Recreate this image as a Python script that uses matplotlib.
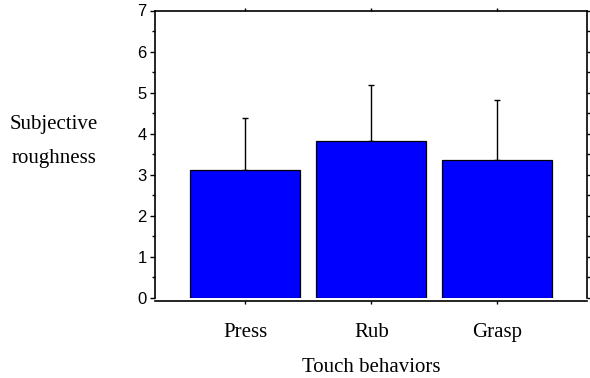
import matplotlib.pyplot as plt
import numpy as np
from matplotlib.ticker import MultipleLocator

behaviors = ['Press', 'Rub', 'Grasp']
means = [3.11, 3.83, 3.36]
errors = [1.27, 1.36, 1.46]

fig = plt.figure(figsize=(5.9, 3.78), dpi=100)
ax = fig.add_axes([155/590, 1 - 298/378, 432/590, 287.5/378])

x = np.arange(len(behaviors))
ax.bar(x, means, width=0.873, color='#0000ff', edgecolor='black', linewidth=0.9, zorder=2)
ax.errorbar(x, means, yerr=[np.zeros(len(errors)), errors], fmt='none',
            ecolor='black', elinewidth=1.0, capsize=2.2, capthick=1.0, zorder=1)

# spine position first: it resets the ticks
for s in ax.spines.values():
    s.set_linewidth(1.2)
ax.spines['bottom'].set_position(('outward', 2))

ax.set_xlim(-0.717, 2.712)
ax.set_ylim(0, 7)
ax.yaxis.set_major_locator(MultipleLocator(1))
ax.yaxis.set_minor_locator(MultipleLocator(0.5))
ax.set_xticks(x)
ax.set_xticklabels(behaviors, family='Liberation Serif', fontsize=15)
ax.set_yticks(range(8))
ax.set_yticklabels([str(v) for v in range(8)], family='Liberation Sans', fontsize=12)

ax.tick_params(axis='y', which='major', direction='out', length=3.6, width=1,
               right=True, pad=2.5)
ax.tick_params(axis='y', which='minor', direction='out', length=2.2, width=1, right=True)
ax.tick_params(axis='x', direction='out', length=2, width=1, top=True, pad=14)

fig.text(54/590, 1 - 129/378, 'Subjective', family='Liberation Serif', fontsize=15,
         ha='center', va='baseline')
fig.text(54/590, 1 - 163/378, 'roughness', family='Liberation Serif', fontsize=15,
         ha='center', va='baseline')
fig.text(371/590, 1 - 372/378, 'Touch behaviors', family='Liberation Serif', fontsize=15,
         ha='center', va='baseline')

fig.savefig('out.png', dpi=100)
